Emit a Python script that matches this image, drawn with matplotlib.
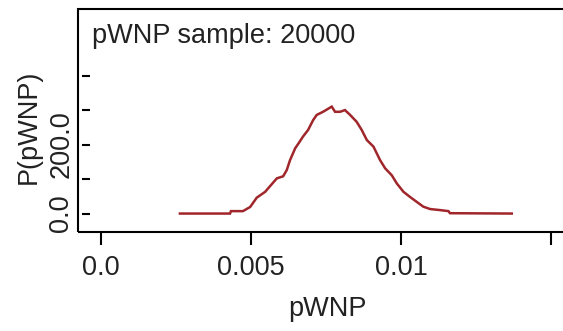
import matplotlib
matplotlib.use("Agg")
import matplotlib.pyplot as plt
from matplotlib.patches import Rectangle

plt.rcParams['font.family'] = ['Liberation Sans', 'DejaVu Sans']

# data (density of pWNP sample)
pwnp = [0.00263, 0.00430, 0.00433, 0.00473, 0.00497, 0.00519, 0.00547, 0.00563,
        0.00586, 0.00607, 0.00619, 0.00630, 0.00647, 0.00658, 0.00673, 0.00690,
        0.00707, 0.00719, 0.00740, 0.00769, 0.00780, 0.00797, 0.00813, 0.00830,
        0.00852, 0.00869, 0.00886, 0.00908, 0.00930, 0.00947, 0.00969, 0.00986,
        0.01008, 0.01030, 0.01052, 0.01074, 0.01097, 0.01130, 0.01158, 0.01163,
        0.01369]
density = [0, 0, 7, 7, 19, 46, 63, 79,
           102, 108, 126, 155, 189, 203, 223, 242,
           271, 286, 295, 310, 295, 295, 300, 286,
           266, 242, 213, 194, 155, 131, 111, 87,
           63, 48, 34, 20, 13, 10, 7, 1,
           0]

x_ticks = [0.0, 0.005, 0.01, 0.015]
x_ticklabels = ["0.0", "0.005", "0.01", ""]
y_ticks = [0, 100, 200, 300, 400]
y_ticklabels = ["0.0", "", "200.0", "", ""]
title_text = "pWNP sample: 20000"
x_label = "pWNP"
y_label = "P(pWNP)"

W, H = 563, 331
fig = plt.figure(figsize=(W / 100, H / 100), dpi=100)
ax = fig.add_axes([78 / W, (H - 232) / H, (576 - 78) / W, (232 - 9) / H])

# spine setup first (set_position resets tick properties)
for s in ax.spines.values():
    s.set_visible(False)
ax.spines['left'].set_position(('outward', -4 * 0.72))
ax.add_patch(Rectangle((0, 0), 1, 1, transform=ax.transAxes, fill=False,
                       lw=1.5, edgecolor="black", clip_on=False, zorder=5))

line_color = "#A0262B"
ax.plot(pwnp, density, color=line_color, lw=1.8, solid_joinstyle="miter")

ax.set_xlim(-0.000767, 0.01583)
ax.set_ylim(-53.5, 593)

fs = 19.5
ax.set_xticks(x_ticks)
ax.set_xticklabels(x_ticklabels, fontsize=fs)
ax.set_yticks(y_ticks)
ax.set_yticklabels(y_ticklabels, fontsize=fs, rotation=90, va="center")

ax.tick_params(axis='x', direction='out', length=9.5, width=1.5, pad=7,
               colors="black", labelcolor="#222222")
ax.tick_params(axis='y', direction='in', length=6, width=1.5, pad=5.5,
               colors="black", labelcolor="#222222")

ax.set_xlabel(x_label, fontsize=fs, color="#222222")
ax.xaxis.set_label_coords(0.5, (232 - 296) / 223)
ax.xaxis.label.set_va('top')
ax.set_ylabel(y_label, fontsize=fs, color="#222222")
ax.yaxis.set_label_coords((29 - 78) / 498, (232 - 127) / 223)
ax.yaxis.label.set_va('center')

ax.text((92 - 78) / 498, (232 - 42.7) / 223, title_text, transform=ax.transAxes,
        fontsize=fs, color="#222222", ha="left", va="baseline")

fig.savefig("out.png", dpi=100)
